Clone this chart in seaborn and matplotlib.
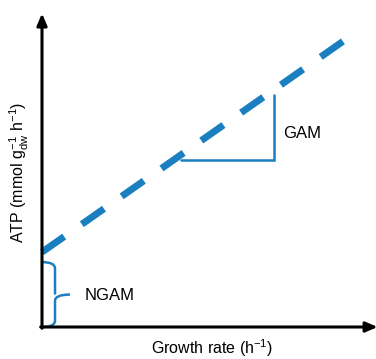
import matplotlib
matplotlib.use("Agg")
import matplotlib.pyplot as plt
import seaborn as sns
import pandas as pd
from matplotlib.path import Path
from matplotlib.patches import PathPatch

# data (arbitrary units)
growth = [0.0, 9.07]
atp = [2.40, 9.20]
gam_x = [4.16, 6.95, 6.95]
gam_y = [5.35, 5.35, 7.44]
ngam_top = 2.08

blue = '#1a7fc1'
sns.set_style('white')
plt.rcParams['font.family'] = ['Liberation Sans', 'DejaVu Sans']
plt.rcParams['text.color'] = 'black'
plt.rcParams['mathtext.fontset'] = 'custom'
plt.rcParams['mathtext.rm'] = 'Liberation Sans'
plt.rcParams['mathtext.it'] = 'Liberation Sans'

fig = plt.figure(figsize=(3.76, 3.59), dpi=100)
ax = fig.add_axes([42/376, (359-327)/359, (376-42)/376, (327-15)/359])
ax.set_xlim(0, 10)
ax.set_ylim(0, 10)
for s in ax.spines.values():
    s.set_visible(False)
ax.set_xticks([]); ax.set_yticks([])
ax.patch.set_alpha(0)

df = pd.DataFrame({'growth': growth, 'atp': atp})
sns.lineplot(data=df, x='growth', y='atp', ax=ax, color=blue, lw=5.0,
             dashes=False, clip_on=False)
ax.lines[0].set_dashes((3.9, 3.1))
ax.lines[0].set_dash_capstyle('butt')

ax.plot(gam_x, gam_y, color=blue, lw=1.8, solid_joinstyle='miter')
ax.text(7.22, 6.2, 'GAM', fontsize=12, va='center', ha='left', color='black')

# brace for NGAM
bx, tip = 0.39, 0.84
mid = ngam_top / 2
verts = [(0.0, 0.0), (bx, 0.0), (bx, 0.2),
         (bx, mid - 0.2), (bx, mid), (tip, mid),
         (bx, mid), (bx, mid + 0.2),
         (bx, ngam_top - 0.2), (bx, ngam_top), (0.0, ngam_top)]
codes = [Path.MOVETO, Path.CURVE3, Path.CURVE3,
         Path.LINETO, Path.CURVE3, Path.LINETO,
         Path.MOVETO, Path.LINETO,
         Path.LINETO, Path.CURVE3, Path.CURVE3]
ax.add_patch(PathPatch(Path(verts, codes), fill=False, edgecolor=blue, lw=1.8,
                       clip_on=False))
ax.text(1.28, 1.0, 'NGAM', fontsize=12, va='center', ha='left', color='black')

# axes with arrows
ax.annotate('', xy=(0, 10.05), xytext=(0, -0.04), xycoords='data',
            arrowprops=dict(arrowstyle='-|>,head_length=0.7,head_width=0.3',
                            lw=2.2, color='black', shrinkA=0, shrinkB=0),
            annotation_clip=False)
ax.annotate('', xy=(10.05, 0), xytext=(-0.04, 0), xycoords='data',
            arrowprops=dict(arrowstyle='-|>,head_length=0.7,head_width=0.3',
                            lw=2.2, color='black', shrinkA=0, shrinkB=0),
            annotation_clip=False)

fig.text(212/376, 1 - 348/359, 'Growth rate (h$^{-1}$)', fontsize=11.5,
         ha='center', va='center', color='black')
fig.text(19/376, 1 - 172/359, 'ATP (mmol g$^{-1}_{\\mathrm{dw}}$ h$^{-1}$)',
         fontsize=11.5, ha='center', va='center', rotation=90, color='black')
ax.set_xlabel(''); ax.set_ylabel('')

fig.savefig('out.png', dpi=100)
